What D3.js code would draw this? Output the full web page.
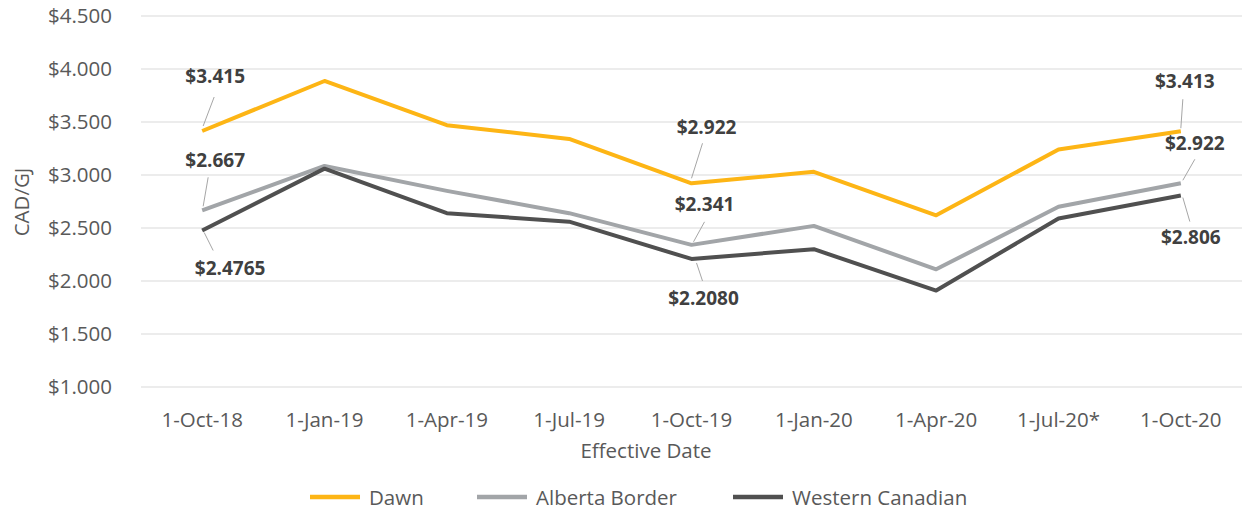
<!DOCTYPE html>
<html>
<head>
<meta charset="utf-8">
<script src="https://cdn.jsdelivr.net/npm/d3@7"></script>
<style>
  body { margin: 0; background: #fff; }
  text { font-family: "Open Sans", "Noto Sans", sans-serif; }
</style>
</head>
<body>
<div id="chart"></div>
<script>
// Categories and series values
var dates = ["1-Oct-18", "1-Jan-19", "1-Apr-19", "1-Jul-19", "1-Oct-19", "1-Jan-20", "1-Apr-20", "1-Jul-20*", "1-Oct-20"];
var dawn = [3.415, 3.887, 3.47, 3.34, 2.922, 3.03, 2.62, 3.24, 3.413];
var alberta = [2.667, 3.085, 2.85, 2.64, 2.341, 2.52, 2.11, 2.70, 2.922];
var western = [2.4765, 3.06, 2.64, 2.56, 2.208, 2.30, 1.91, 2.59, 2.806];
var yTicks = [1.0, 1.5, 2.0, 2.5, 3.0, 3.5, 4.0, 4.5];

var seriesNames = ["Dawn", "Alberta Border", "Western Canadian"];
var seriesValues = [dawn, alberta, western];
var colors = ["#FDB515", "#A2A5A8", "#505050"];

// label text, series, point index and offsets (label centre, leader line)
var labels = [
  {s: 0, i: 0, text: "$3.415", dx: 13, dy: -55, lx1: 1, ly1: -5, lx2: 12, ly2: -34},
  {s: 1, i: 0, text: "$2.667", dx: 13, dy: -50, lx1: 1, ly1: -4, lx2: 6, ly2: -33},
  {s: 2, i: 0, text: "$2.4765", dx: 28, dy: 38, lx1: 2, ly1: 2, lx2: 11, ly2: 20},
  {s: 0, i: 4, text: "$2.922", dx: 15, dy: -56, lx1: 0, ly1: -5, lx2: 11, ly2: -40},
  {s: 1, i: 4, text: "$2.341", dx: 13, dy: -41, lx1: 2, ly1: -3, lx2: 13, ly2: -23},
  {s: 2, i: 4, text: "$2.2080", dx: 12, dy: 39, lx1: 5, ly1: 4, lx2: 11, ly2: 22},
  {s: 0, i: 8, text: "$3.413", dx: 4, dy: -50, lx1: 0, ly1: -3, lx2: 2, ly2: -32},
  {s: 1, i: 8, text: "$2.922", dx: 14, dy: -40, lx1: 2, ly1: -3, lx2: 14, ly2: -24},
  {s: 2, i: 8, text: "$2.806", dx: 10, dy: 41, lx1: 2, ly1: 2, lx2: 9, ly2: 26}
];

var svgWidth = 1243;
var svgHeight = 512;
var axisFont = "20.5px";

var svg = d3.select("#chart")
  .append("svg")
  .attr("width", svgWidth)
  .attr("height", svgHeight);

// Scales
var xScale = d3.scaleBand()
  .domain(dates)
  .range([141, 1242]);

var yScale = d3.scaleLinear()
  .domain([1.0, 4.5])
  .range([387, 16]);

var xPos = function(d) { return xScale(d) + xScale.bandwidth() / 2; };

// Gridlines
svg.append("g")
  .selectAll("line")
  .data(yTicks)
  .enter()
  .append("line")
  .attr("x1", 141)
  .attr("x2", 1242)
  .attr("y1", d => yScale(d))
  .attr("y2", d => yScale(d))
  .attr("stroke", "#D9D9D9")
  .attr("stroke-width", 1);

// Y axis
var leftAxis = d3.axisLeft(yScale)
  .tickValues(yTicks)
  .tickSize(0)
  .tickPadding(0)
  .tickFormat(d => "$" + d3.format(".3f")(d));

var yAxis = svg.append("g")
  .attr("transform", "translate(112, 0)")
  .call(leftAxis);
yAxis.select(".domain").remove();
yAxis.selectAll("text")
  .attr("fill", "#595959")
  .style("font-size", axisFont)
  .style("font-family", "'Open Sans', 'Noto Sans', sans-serif");

// X axis
var bottomAxis = d3.axisBottom(xScale)
  .tickSize(0)
  .tickPadding(0);

var xAxis = svg.append("g")
  .attr("transform", "translate(0, 412)")
  .call(bottomAxis);
xAxis.select(".domain").remove();
xAxis.selectAll("text")
  .attr("fill", "#595959")
  .style("font-size", axisFont)
  .style("font-family", "'Open Sans', 'Noto Sans', sans-serif");

// Axis titles
svg.append("text")
  .attr("x", 646)
  .attr("y", 450)
  .attr("text-anchor", "middle")
  .attr("dominant-baseline", "central")
  .attr("fill", "#595959")
  .style("font-size", axisFont)
  .text("Effective Date");

svg.append("text")
  .attr("transform", "translate(21, 202) rotate(-90)")
  .attr("text-anchor", "middle")
  .attr("dominant-baseline", "central")
  .attr("fill", "#595959")
  .style("font-size", axisFont)
  .text("CAD/GJ");

// Lines
var line = d3.line()
  .x((d, i) => xPos(dates[i]))
  .y(d => yScale(d));

[0, 1, 2].forEach(function(s) {
  svg.append("path")
    .datum(seriesValues[s])
    .attr("fill", "none")
    .attr("stroke", colors[s])
    .attr("stroke-width", 4)
    .attr("stroke-linejoin", "round")
    .attr("d", line);
});

// Data labels with leader lines
var labelGroup = svg.append("g");
labels.forEach(function(l) {
  var px = xPos(dates[l.i]);
  var py = yScale(seriesValues[l.s][l.i]);
  labelGroup.append("line")
    .attr("x1", px + l.lx1)
    .attr("y1", py + l.ly1)
    .attr("x2", px + l.lx2)
    .attr("y2", py + l.ly2)
    .attr("stroke", "#A6A6A6")
    .attr("stroke-width", 1);
  labelGroup.append("text")
    .attr("x", px + l.dx)
    .attr("y", py + l.dy)
    .attr("text-anchor", "middle")
    .attr("dominant-baseline", "central")
    .attr("fill", "#404040")
    .style("font-size", "19px")
    .style("font-weight", "bold")
    .text(l.text);
});

// Legend
var legendX = [310, 477, 733];
var legend = svg.append("g");
seriesNames.forEach(function(name, s) {
  legend.append("line")
    .attr("x1", legendX[s])
    .attr("x2", legendX[s] + 50)
    .attr("y1", 497)
    .attr("y2", 497)
    .attr("stroke", colors[s])
    .attr("stroke-width", 4.5);
  legend.append("text")
    .attr("x", legendX[s] + 59)
    .attr("y", 497)
    .attr("dominant-baseline", "central")
    .attr("fill", "#595959")
    .style("font-size", axisFont)
    .text(name);
});
</script>
</body>
</html>
